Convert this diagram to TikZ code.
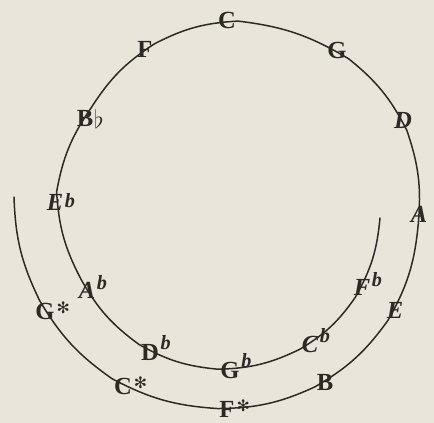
\documentclass[tikz,border=0pt]{standalone}
\usepackage{fontspec}
\setmainfont{Liberation Serif}
\newfontfamily\symfont{DejaVu Sans}
\definecolor{paper}{RGB}{233,229,219}
\definecolor{ink}{RGB}{45,42,38}
\newcommand{\shp}{\rlap{\kern1.2pt\raisebox{3pt}{\symfont\fontsize{9}{9}\selectfont ✻}}}
\newcommand{\flt}[1][5.5pt]{\rlap{\kern1pt\raisebox{#1}{\fontsize{11.5}{12}\selectfont\itshape b}}}
\tikzset{
  note/.style={font=\fontsize{14}{16}\selectfont\bfseries,text=ink,inner sep=1pt,
               text height=9.2pt,text depth=0pt},
  inote/.style={note,font=\fontsize{14}{16}\selectfont\bfseries\itshape},
  seg/.style={draw=ink,line width=0.85pt,line cap=round},
}

\begin{document}
\begin{tikzpicture}[x=0.02cm,y=0.02cm]
  \fill[paper] (0,0) rectangle (434,-423);
  \useasboundingbox (0,0) rectangle (434,-423);
  %% Outer turn
  \coordinate (start) at (14,-197);
  \node[note]  (Gs) at (45,-311)  {G\shp};
  \node[note]  (Cs) at (123,-386) {C\shp};
  \node[note]  (Fs) at (227,-409) {F\shp};
  \node[note]  (B)  at (325,-382) {B};
  \node[inote] (E)  at (395,-310) {E};
  \node[inote] (A)  at (419,-214) {A};
  \node[inote] (D)  at (403,-120) {D};
  \node[note]  (G)  at (337,-50)  {G};
  \node[note]  (C)  at (227,-20)  {C};
  \node[note]  (F)  at (145,-49)  {F};
  \node[note]  (Bb) at (85,-118)  {B\rlap{\kern0.5pt\raisebox{-1.5pt}{$\flat$}}};
  \node[inote] (Eb) at (55,-202)  {E\flt[1.5pt]};
  %% Inner turn
  \node[inote] (Ab) at (87,-290)  {A\flt[5pt]};
  \node[note]  (Db) at (150,-352) {D\flt[6pt]};
  \node[note]  (Gb) at (230,-370) {G\flt[6pt]};
  \node[inote] (Cb) at (310,-344) {C\flt[5.5pt]};
  \node[inote] (Fb) at (362,-287) {F\flt[5pt]};
  \coordinate (stop) at (380,-218);

  %% Spiral
  \draw[seg] (start) to[bend right=12] (Gs) to[bend right=12] (Cs)
    to[bend right=12] (Fs) to[bend right=12] (B) to[bend right=12] (E)
    to[bend right=12] (A) to[bend right=12] (D) to[bend right=12] (G)
    to[bend right=12] (C) to[bend right=12] (F) to[bend right=12] (Bb)
    to[bend right=12] (Eb) to[bend right=12] (Ab) to[bend right=12] (Db)
    to[bend right=12] (Gb) to[bend right=12] (Cb) to[bend right=12] (Fb)
    to[bend right=12] (stop);
\end{tikzpicture}
\end{document}
